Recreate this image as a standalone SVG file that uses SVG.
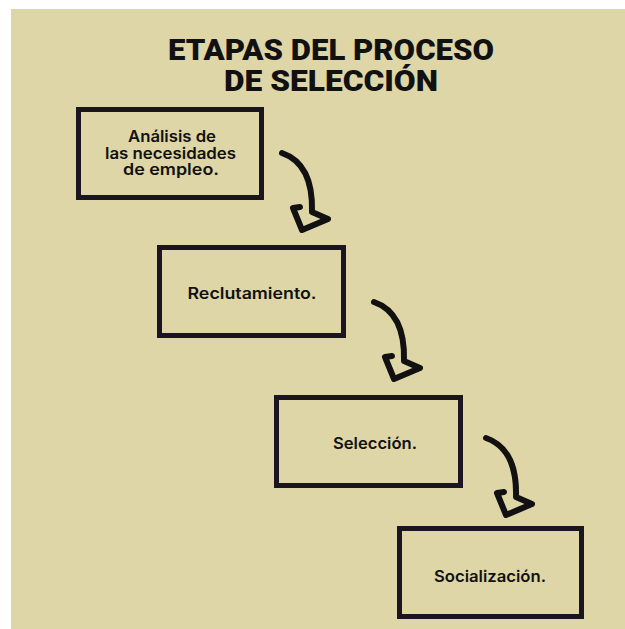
<svg xmlns="http://www.w3.org/2000/svg" width="625" height="629" viewBox="0 0 625 629">
<style>
.bg{fill:#dfd6a8}
.box{fill:none;stroke:#1a1520;stroke-width:5}
.title{font-family:Roboto,"Liberation Sans",sans-serif;font-weight:900;font-size:29px;fill:#111;text-anchor:middle}
.lbl{font-family:Inter,"Liberation Sans",sans-serif;font-weight:600;font-size:16px;fill:#111;text-anchor:middle}
.arr{fill:none;stroke:#111;stroke-width:6;stroke-linecap:round;stroke-linejoin:round}
</style>
<defs>
<path id="arrow" class="arr" d="M0,0 C20,7 31,25 30,59 L46,66 L20,77 L11,55 L18,54"/>
</defs>
<rect x="0" y="0" width="625" height="629" fill="#ffffff"/>
<rect class="bg" x="11" y="9" width="614" height="620"/>
<g id="title">
<text class="title" x="331" y="60" textLength="326" lengthAdjust="spacingAndGlyphs">ETAPAS DEL PROCESO</text>
<text class="title" x="331" y="91" textLength="214" lengthAdjust="spacingAndGlyphs">DE SELECCIÓN</text>
</g>
<g id="connectors">
<use href="#arrow" transform="translate(282,153)"/>
<use href="#arrow" transform="translate(374,302)"/>
<use href="#arrow" transform="translate(486,438)"/>
</g>
<g id="node1">
<rect class="box" x="78.5" y="109.5" width="183" height="88"/>
<text class="lbl" x="172" y="141.5" textLength="88" lengthAdjust="spacingAndGlyphs">Análisis de</text>
<text class="lbl" x="170.5" y="158.5" textLength="131" lengthAdjust="spacingAndGlyphs">las necesidades</text>
<text class="lbl" x="171" y="175" textLength="96" lengthAdjust="spacingAndGlyphs">de empleo.</text>
</g>
<g id="node2">
<rect class="box" x="159.5" y="247.5" width="184" height="88"/>
<text class="lbl" x="252" y="298.5" textLength="129" lengthAdjust="spacingAndGlyphs">Reclutamiento.</text>
</g>
<g id="node3">
<rect class="box" x="276.5" y="397.5" width="184" height="88"/>
<text class="lbl" x="375" y="448.5" textLength="84" lengthAdjust="spacingAndGlyphs">Selección.</text>
</g>
<g id="node4">
<rect class="box" x="399.5" y="528.5" width="182" height="88"/>
<text class="lbl" x="490" y="581.5" textLength="112" lengthAdjust="spacingAndGlyphs">Socialización.</text>
</g>
</svg>
